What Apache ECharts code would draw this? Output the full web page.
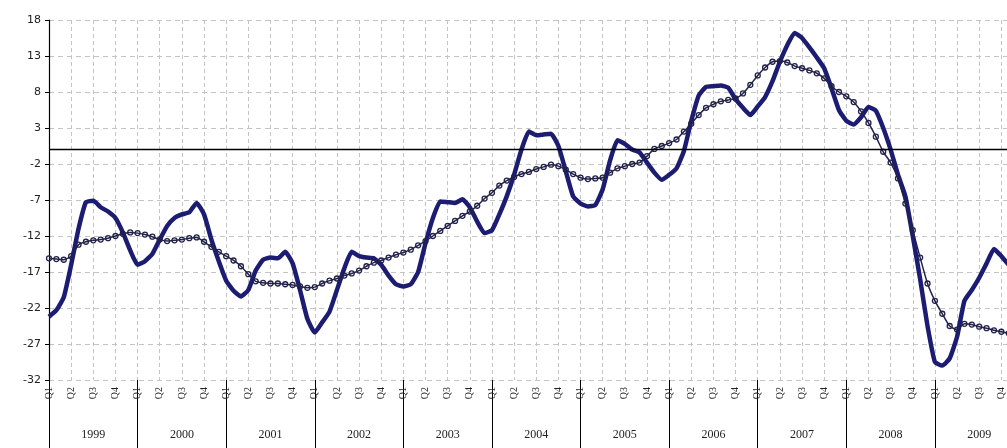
<!DOCTYPE html>
<html>
<head>
<meta charset="utf-8">
<script src="https://cdn.jsdelivr.net/npm/echarts@6/dist/echarts.min.js"></script>
<style>
html,body{margin:0;padding:0;background:#fff;}
#c{width:1007px;height:448px;}
</style>
</head>
<body>
<div id="c"></div>
<script>
const years = ['1999','2000','2001','2002','2003','2004','2005','2006','2007','2008','2009'];
const quarterLabels = ['Q1','Q2','Q3','Q4'];
const yTicks = { min: -32, max: 18, step: 5 };

// monthly balance (thick line), Jan 1999 onward
const balance = [
 -23.2,-22.3,-20.5,-16.0,-11.0,-7.3,-7.1,-8.0,-8.6,-9.5,-11.5,-14.0,
 -16.0,-15.5,-14.5,-12.5,-10.6,-9.5,-9.0,-8.7,-7.4,-9.0,-12.5,-15.5,
 -18.2,-19.6,-20.4,-19.5,-16.8,-15.3,-15.0,-15.1,-14.2,-15.8,-19.5,-23.5,
 -25.4,-24.0,-22.5,-19.5,-16.5,-14.2,-14.8,-15.0,-15.1,-16.0,-17.5,-18.7,
 -19.0,-18.7,-17.0,-13.0,-9.5,-7.2,-7.3,-7.4,-6.9,-8.0,-10.0,-11.6,
 -11.2,-9.0,-6.5,-3.5,0.0,2.5,2.0,2.1,2.2,0.5,-3.0,-6.5,
 -7.5,-7.9,-7.7,-5.5,-1.5,1.3,0.8,0.0,-0.4,-1.8,-3.2,-4.2,
 -3.5,-2.6,-0.2,4.0,7.5,8.7,8.8,8.9,8.6,7.0,5.8,4.8,
 6.0,7.3,9.5,12.2,14.5,16.2,15.5,14.2,12.8,11.3,8.5,5.5,
 4.0,3.5,4.5,5.9,5.4,3.0,0.0,-3.5,-6.5,-12.0,-18.0,-24.5,
 -29.5,-30.0,-29.0,-26.0,-21.0,-19.5,-17.8,-15.8,-13.8,-14.8,-16.0
];
// moving average (thin chained line)
const movingAvg = [
 -15.1,-15.2,-15.3,-14.8,-13.2,-12.8,-12.6,-12.5,-12.3,-12.0,-11.7,-11.5,
 -11.6,-11.8,-12.1,-12.5,-12.7,-12.6,-12.5,-12.3,-12.2,-12.8,-13.5,-14.2,
 -14.8,-15.4,-16.2,-17.3,-18.3,-18.5,-18.6,-18.6,-18.7,-18.8,-19.0,-19.2,
 -19.1,-18.6,-18.2,-17.9,-17.5,-17.2,-16.8,-16.2,-15.7,-15.4,-15.0,-14.6,
 -14.3,-13.9,-13.3,-12.7,-12.0,-11.3,-10.6,-9.9,-9.2,-8.6,-7.8,-6.8,
 -6.0,-5.0,-4.3,-3.8,-3.4,-3.1,-2.7,-2.4,-2.1,-2.3,-2.8,-3.4,
 -3.9,-4.1,-4.0,-3.9,-3.2,-2.6,-2.3,-2.0,-1.8,-0.9,0.1,0.5,
 0.9,1.4,2.5,3.6,4.8,5.8,6.3,6.7,6.9,7.1,7.8,9.0,
 10.3,11.4,12.2,12.3,12.1,11.6,11.3,11.0,10.6,9.9,8.8,8.0,
 7.4,6.6,5.3,3.7,1.8,-0.3,-1.8,-4.0,-7.5,-11.2,-15.0,-18.6,
 -21.0,-22.8,-24.5,-25.0,-24.2,-24.3,-24.6,-24.8,-25.1,-25.3,-25.5
];

const months = [];
years.forEach(y => { for (let m = 1; m <= 12; m++) months.push(y + '-' + (m < 10 ? '0' + m : m)); });
months.push('2010-01');

const quarterStart = (i) => i % 3 === 0;

const chart = echarts.init(document.getElementById('c'), null, { renderer: 'canvas' });
chart.setOption({
  backgroundColor: '#ffffff',
  animation: false,
  grid: { left: 49, top: 20, bottom: 68, width: 974.5, containLabel: false, outerBoundsMode: 'none' },
  xAxis: [
    {
      type: 'category', data: months, boundaryGap: false, position: 'bottom', offset: 0,
      axisLine: { show: false }, axisTick: { show: false },
      axisLabel: {
        interval: (i) => quarterStart(i), rotate: 90, margin: 7,
        fontFamily: 'Liberation Serif', fontSize: 10, color: '#222',
        formatter: (v, i) => quarterLabels[(i % 12) / 3]
      },
      splitLine: { show: true, interval: (i) => quarterStart(i), lineStyle: { color: '#c4c4c4', type: [4, 3], width: 1 } }
    },
    {
      type: 'category', data: years, boundaryGap: true, position: 'bottom', offset: 0,
      axisLine: { show: false },
      axisTick: { show: true, interval: 0, length: 68, lineStyle: { color: '#000', width: 1 } },
      axisLabel: { interval: 0, margin: 49, fontFamily: 'Liberation Serif', fontSize: 12, color: '#222' },
      splitLine: { show: false }
    }
  ],
  yAxis: {
    type: 'value', min: yTicks.min, max: yTicks.max, interval: yTicks.step,
    axisLine: { show: true, lineStyle: { color: '#000', width: 1.2 } },
    axisTick: { show: true, length: 4, lineStyle: { color: '#000' } },
    axisLabel: { fontFamily: 'DejaVu Sans', fontSize: 11, color: '#222', margin: 8 },
    splitLine: { show: true, lineStyle: { color: '#c4c4c4', type: [5, 4], width: 1 } }
  },
  series: [
    {
      type: 'line', name: 'balance', data: balance, xAxisIndex: 0,
      symbol: 'none', smooth: 0.15,
      lineStyle: { color: '#1c1c72', width: 4.5, join: 'round' },
      z: 3,
      markLine: {
        silent: true, symbol: 'none', label: { show: false },
        lineStyle: { color: '#000', width: 1.4, type: 'solid' },
        data: [{ yAxis: 0 }]
      }
    },
    {
      type: 'line', name: 'average', data: movingAvg, xAxisIndex: 0,
      symbol: 'circle', symbolSize: 5, showSymbol: true, showAllSymbol: true, smooth: 0.2,
      lineStyle: { color: '#22224a', width: 1.5 },
      itemStyle: { color: 'rgba(255,255,255,0)', borderColor: '#22224a', borderWidth: 1.3 },
      z: 4
    }
  ]
});
</script>
</body>
</html>
